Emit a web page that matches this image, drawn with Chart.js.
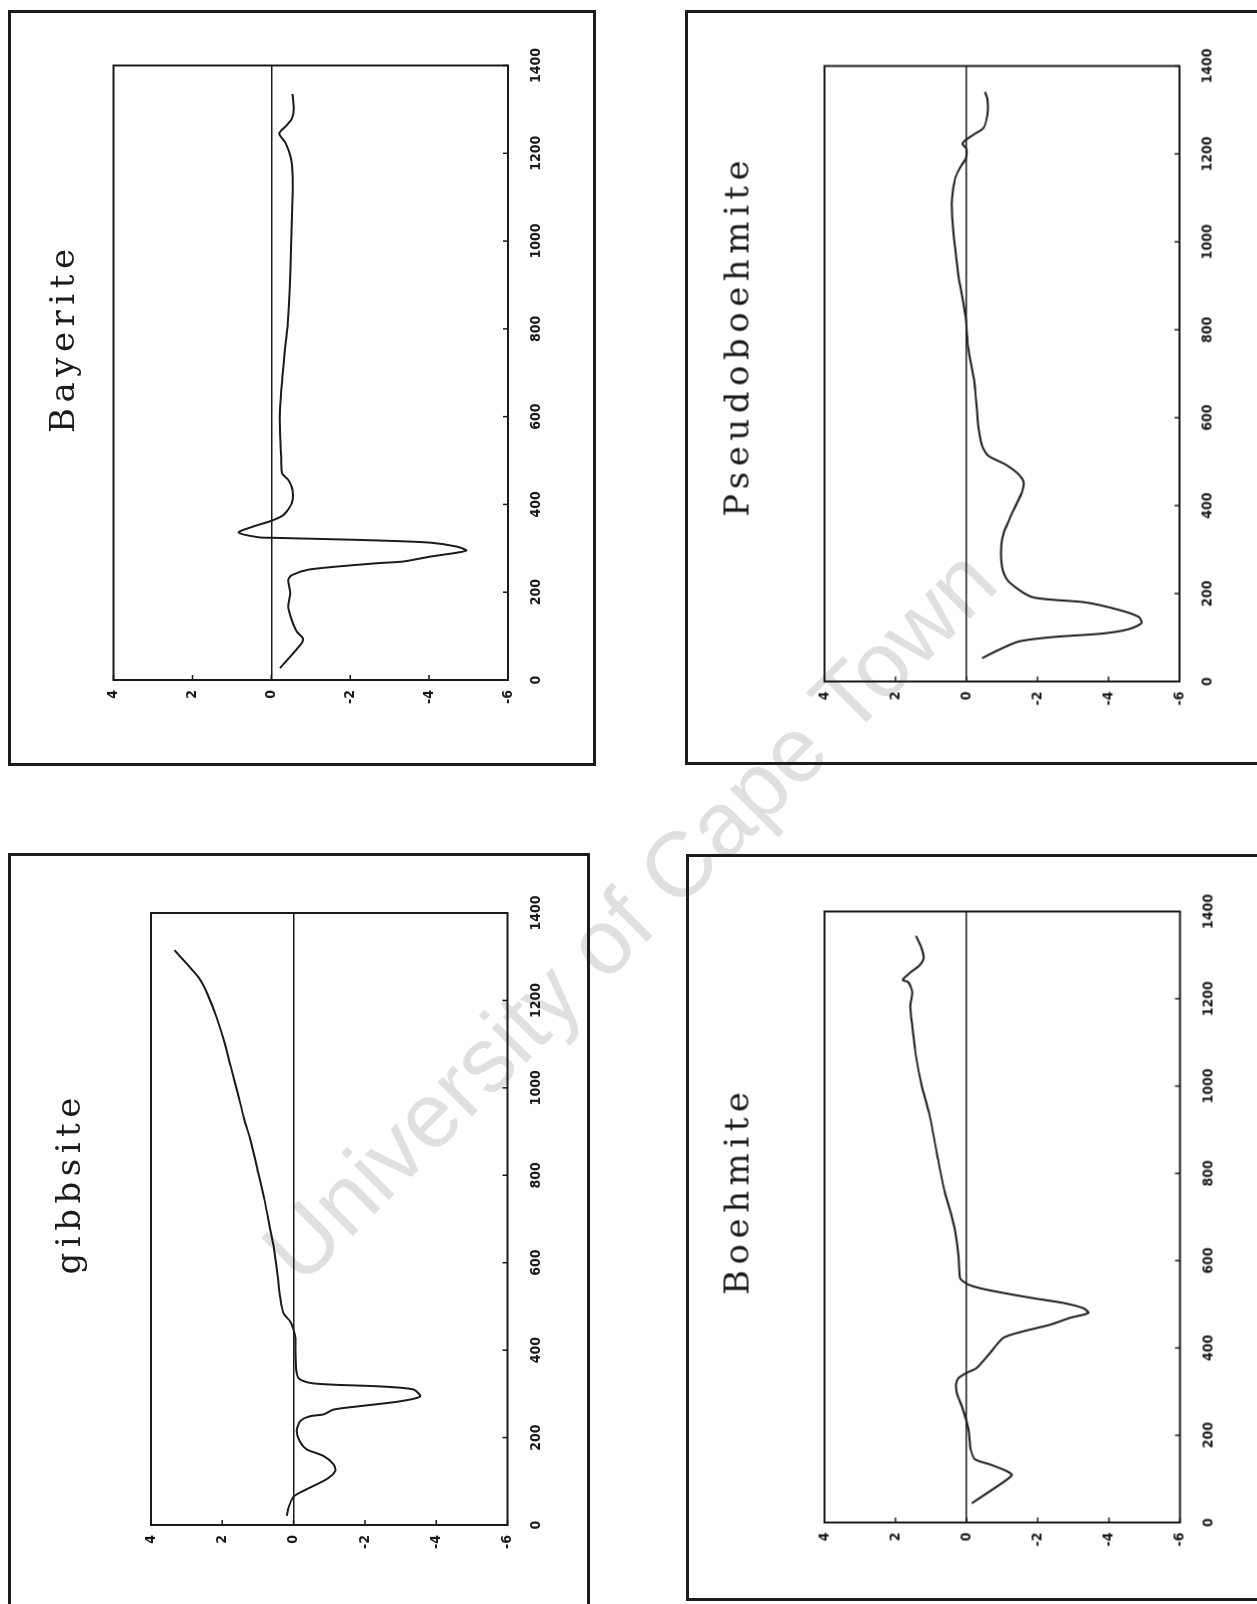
<!DOCTYPE html>
<html>
<head>
<meta charset="utf-8">
<script src="https://cdn.jsdelivr.net/npm/chart.js@4.4.1/dist/chart.umd.min.js"></script>
<style>
  body { margin: 0; width: 1257px; height: 1604px; overflow: hidden; background: #fff; position: relative; }
  .panel { position: absolute; box-sizing: border-box; border: 3px solid #1c1c1c; overflow: hidden; }
  .rot { position: absolute; transform: rotate(-90deg); }
  .rot canvas { position: absolute; left: 0; top: 0; }
  .title { position: absolute; font-family: "DejaVu Serif", serif; font-size: 34px; letter-spacing: 5.5px;
           padding-left: 5.5px; line-height: 1; white-space: nowrap; color: #1a1a1a; transform: translateX(-50%); }
  .mark { position: absolute; left: 629px; top: 915px; transform: translate(-50%, -50%) rotate(-45deg);
          font-family: "Liberation Sans", Arial, sans-serif; font-size: 92px; color: #e0e0e0; white-space: nowrap; }
</style>
</head>
<body>
<div class="mark">University of Cape Town</div>
<script>
// ===================== Data =====================
const titles = ["Bayerite", "Pseudoboehmite", "gibbsite", "Boehmite"];
const tempTicks = [0, 200, 400, 600, 800, 1000, 1200, 1400];
const signalTicks = [4, 2, 0, -2, -4, -6];

const bayeriteT = [27, 84, 95, 110, 137, 167, 198, 228, 239, 252, 266, 270, 281, 290, 295, 304, 313, 318, 321, 324, 325, 336,
  350, 363, 376, 403, 433, 456, 471, 509, 570, 616, 688, 756, 813, 893, 983, 1097, 1154, 1188, 1222, 1245, 1262,
  1279, 1301, 1335];
const bayeriteV = [-0.22, -0.77, -0.80, -0.65, -0.52, -0.43, -0.48, -0.43, -0.52, -0.98, -2.67, -3.35, -4.02, -4.70, -4.95,
  -4.70, -4.02, -2.67, -1.41, -0.03, 0.31, 0.83, 0.45, -0.01, -0.31, -0.52, -0.54, -0.43, -0.27, -0.25, -0.22, -0.22,
  -0.28, -0.35, -0.42, -0.47, -0.50, -0.54, -0.54, -0.50, -0.37, -0.20, -0.37, -0.52, -0.57, -0.54];

const pseudoT = [53, 72, 91, 101, 109, 119, 133, 147, 163, 180, 186, 192, 209, 232, 262, 308, 338, 369, 399, 430, 452, 471,
  494, 513, 536, 567, 612, 658, 688, 759, 827, 872, 918, 985, 1053, 1098, 1144, 1172, 1189, 1211, 1223, 1232, 1245, 1259,
  1290, 1324, 1341];
const pseudoV = [-0.44, -0.91, -1.47, -2.41, -3.82, -4.57, -4.93, -4.85, -4.29, -3.35, -2.41, -1.85, -1.47, -1.14, -1.00,
  -0.98, -1.05, -1.21, -1.38, -1.56, -1.61, -1.47, -1.09, -0.62, -0.44, -0.36, -0.30, -0.25, -0.21, -0.05, 0.02, 0.11, 0.22,
  0.32, 0.40, 0.41, 0.32, 0.16, 0.02, 0.00, 0.11, 0.02, -0.22, -0.48, -0.59, -0.59, -0.52];

const gibbsiteT = [21, 40, 65, 82, 105, 124, 139, 158, 173, 192, 215, 238, 249, 253, 264, 272, 283, 294, 310, 317, 321, 325,
  336, 359, 405, 427, 446, 465, 484, 518, 572, 632, 678, 745, 812, 880, 930, 992, 1048, 1104, 1161, 1217, 1251, 1284, 1315];
const gibbsiteV = [0.19, 0.14, 0.00, -0.37, -0.93, -1.17, -1.12, -0.84, -0.37, -0.17, -0.09, -0.19, -0.47, -0.84, -1.12,
  -1.87, -2.99, -3.55, -3.36, -2.43, -1.12, -0.47, -0.14, -0.07, -0.05, -0.05, 0.00, 0.09, 0.28, 0.37, 0.45, 0.55, 0.66,
  0.82, 1.01, 1.21, 1.39, 1.58, 1.76, 1.94, 2.16, 2.43, 2.65, 3.00, 3.34];

const boehmiteT = [44, 72, 108, 118, 133, 145, 168, 183, 213, 236, 267, 297, 316, 331, 343, 354, 389, 423, 438, 453, 469,
  480, 491, 503, 514, 526, 537, 545, 552, 560, 610, 670, 701, 758, 847, 936, 1003, 1070, 1137, 1182, 1215, 1238, 1243, 1260,
  1277, 1293, 1316, 1344];
const boehmiteV = [-0.14, -0.66, -1.27, -1.12, -0.66, -0.23, -0.11, -0.09, -0.05, 0.02, 0.14, 0.28, 0.30, 0.23, 0.00, -0.28,
  -0.66, -1.03, -1.59, -2.34, -2.91, -3.42, -3.28, -2.72, -1.87, -1.03, -0.37, -0.05, 0.09, 0.19, 0.23, 0.33, 0.42, 0.62,
  0.84, 1.05, 1.27, 1.43, 1.53, 1.59, 1.53, 1.64, 1.80, 1.59, 1.32, 1.21, 1.27, 1.43];

// ===================== Page layout =====================
// box = panel border box [left, top, width, height]; frame = plot frame [left, top, right, bottom];
// titleAt = [centre y, baseline x] -- all in page pixels, the plots are turned a quarter turn
const panels = [
  { title: titles[0], t: bayeriteT, v: bayeriteV, box: [8, 10, 588, 756], frame: [113.5, 65.5, 508, 680], titleAt: [341, 74] },
  { title: titles[1], t: pseudoT, v: pseudoV, box: [685, 10, 590, 755], frame: [824, 65.5, 1179, 681], titleAt: [338, 748] },
  { title: titles[2], t: gibbsiteT, v: gibbsiteV, box: [8, 853, 582, 770], frame: [151, 913, 507.5, 1525], titleAt: [1186, 80] },
  { title: titles[3], t: boehmiteT, v: boehmiteV, box: [686, 854, 590, 747], frame: [824, 911, 1179.5, 1522], titleAt: [1193, 748] }
];

const ink = "#1a1a1a";
const tickFont = { family: "DejaVu Sans Condensed", weight: "bold", size: 14 };

// ===================== Frame + inward tick marks =====================
const frameAndTicks = {
  id: "frameAndTicks",
  afterDatasetsDraw(chart) {
    const { ctx, chartArea: a, scales } = chart;
    ctx.save();
    ctx.strokeStyle = ink;
    ctx.lineWidth = 2;
    ctx.strokeRect(a.left, a.top, a.right - a.left, a.bottom - a.top);
    ctx.lineWidth = 1.5;
    ctx.beginPath();
    scales.x.ticks.forEach((t) => {
      const p = scales.x.getPixelForValue(t.value);
      ctx.moveTo(p, a.bottom);
      ctx.lineTo(p, a.bottom - 5);
    });
    scales.y.ticks.forEach((t) => {
      const p = scales.y.getPixelForValue(t.value);
      ctx.moveTo(a.left, p);
      ctx.lineTo(a.left + 5, p);
    });
    ctx.stroke();
    ctx.restore();
  }
};

// ===================== Build the four charts =====================
panels.forEach((p) => {
  const [L, T, W, H] = p.box;
  const cx = L + 3, cy = T + 3, cw = W - 6, ch = H - 6;

  const panel = document.createElement("div");
  panel.className = "panel";
  Object.assign(panel.style, { left: L + "px", top: T + "px", width: W + "px", height: H + "px" });

  const rot = document.createElement("div");
  rot.className = "rot";
  Object.assign(rot.style, { left: (cw - ch) / 2 + "px", top: (ch - cw) / 2 + "px", width: ch + "px", height: cw + "px" });

  const canvas = document.createElement("canvas");
  canvas.width = ch;
  canvas.height = cw;
  rot.appendChild(canvas);

  const title = document.createElement("div");
  title.className = "title";
  title.textContent = p.title;
  title.style.left = ch - (p.titleAt[0] - cy) + "px";
  title.style.top = p.titleAt[1] - cx - 29 + "px";
  rot.appendChild(title);

  panel.appendChild(rot);
  document.body.appendChild(panel);

  // chart area inside the (unturned) canvas
  const area = {
    left: ch - (p.frame[3] - cy),
    right: ch - (p.frame[1] - cy),
    top: p.frame[0] - cx,
    bottom: p.frame[2] - cx
  };

  new Chart(canvas, {
    type: "line",
    data: {
      datasets: [{
        data: p.t.map((t, i) => ({ x: t, y: p.v[i] })),
        borderColor: ink,
        borderWidth: 2,
        pointRadius: 0,
        tension: 0.25,
        fill: false
      }]
    },
    options: {
      responsive: false,
      animation: false,
      layout: { padding: { top: area.top, right: ch - area.right, left: 0, bottom: 0 } },
      plugins: { legend: { display: false }, tooltip: { enabled: false } },
      scales: {
        x: {
          type: "linear",
          min: tempTicks[0],
          max: tempTicks[tempTicks.length - 1],
          afterBuildTicks: (s) => { s.ticks = tempTicks.map((v) => ({ value: v })); },
          afterFit: (s) => { s.height = cw - area.bottom; },
          grid: { display: false },
          border: { display: false },
          ticks: { color: ink, font: tickFont, padding: 12, maxRotation: 0, autoSkip: false, callback: (v) => String(v) }
        },
        y: {
          min: signalTicks[signalTicks.length - 1],
          max: signalTicks[0],
          afterBuildTicks: (s) => { s.ticks = signalTicks.slice().reverse().map((v) => ({ value: v })); },
          afterFit: (s) => { s.width = area.left; },
          grid: {
            drawTicks: false,
            lineWidth: 1.5,
            color: (c) => (c.tick && c.tick.value === 0 ? ink : "rgba(0,0,0,0)")
          },
          border: { display: false },
          ticks: { color: ink, font: tickFont, padding: 10, autoSkip: false, callback: (v) => String(v) }
        }
      }
    },
    plugins: [frameAndTicks]
  });
});
</script>
</body>
</html>
